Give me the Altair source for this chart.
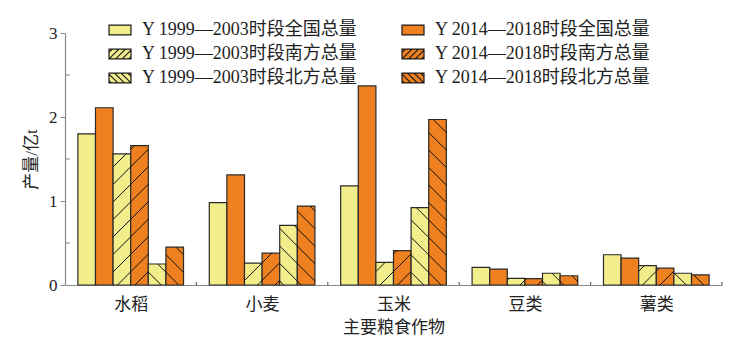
import math
import altair as alt
import pandas as pd

# ---------------- data ----------------
crops = ["水稻", "小麦", "玉米", "豆类", "薯类"]
series = [
    "Y 1999—2003时段全国总量",
    "Y 2014—2018时段全国总量",
    "Y 1999—2003时段南方总量",
    "Y 2014—2018时段南方总量",
    "Y 1999—2003时段北方总量",
    "Y 2014—2018时段北方总量",
]
nat_1999 = [1.80, 0.98, 1.18, 0.21, 0.36]
nat_2014 = [2.11, 1.31, 2.37, 0.19, 0.32]
south_1999 = [1.56, 0.26, 0.27, 0.08, 0.23]
south_2014 = [1.66, 0.38, 0.41, 0.075, 0.20]
north_1999 = [0.25, 0.71, 0.92, 0.14, 0.14]
north_2014 = [0.45, 0.94, 1.97, 0.11, 0.12]
values = [nat_1999, nat_2014, south_1999, south_2014, north_1999, north_2014]
hatch = ["", "", "/", "/", "\\", "\\"]
colors = ["#F3EE8C", "#EE801F", "#F3EE8C", "#EE801F", "#F3EE8C", "#EE801F"]
legend_order = [0, 2, 4, 1, 3, 5]   # legend is filled column by column
y_ticks = [0, 1, 2, 3]
y_minor = [0.5, 1.5, 2.5]

# ---------------- layout ----------------
W, H = 657, 252
YMAX = 3
NCAT = len(crops)
BW = 0.134            # bar width in category units
kx = W / NCAT
ky = H / YMAX
SP = 17.5             # hatch spacing in px

FONT = "Liberation Serif, Noto Sans CJK SC"
TXT = "#222222"

rows = []
segs = []
start = (1 - BW * len(series)) / 2
for si, s in enumerate(series):
    for ci, c in enumerate(crops):
        v = values[si][ci]
        x0 = ci + start + si * BW
        x1 = x0 + BW
        rows.append({"crop": c, "series": s, "x0": x0, "x1": x1, "v": v, "v0": 0.0})
        if hatch[si]:
            X0, X1, Hp = x0 * kx, x1 * kx, v * ky
            if hatch[si] == "/":
                m0 = math.floor((X0 - Hp) / SP) - 1
                m1 = math.ceil(X1 / SP) + 1
                for m in range(m0, m1 + 1):
                    cc = m * SP
                    xa, xb = max(X0, cc), min(X1, cc + Hp)
                    if xb - xa > 0.8:
                        segs.append({"x0": xa / kx, "v": (xa - cc) / ky,
                                     "x1": xb / kx, "v0": (xb - cc) / ky})
            else:
                m0 = math.floor(X0 / SP) - 1
                m1 = math.ceil((X1 + Hp) / SP) + 1
                for m in range(m0, m1 + 1):
                    cc = m * SP + SP / 2
                    xa, xb = max(X0, cc - Hp), min(X1, cc)
                    if xb - xa > 0.8:
                        segs.append({"x0": xa / kx, "v": (cc - xa) / ky,
                                     "x1": xb / kx, "v0": (cc - xb) / ky})

df = pd.DataFrame(rows)
seg_df = pd.DataFrame(segs)
minor_df = pd.DataFrame({"v": y_minor})
bound_df = pd.DataFrame({"x0": list(range(1, NCAT + 1))})
legend_df = pd.DataFrame({"series": series, "v": [-1.0] * len(series), "x0": [0.5] * len(series)})

# legend symbol paths
BOX = "M-1,-0.45H1V0.45H-1Z"
P_S = BOX + " M-1,-0.15L-0.7,-0.45 M-1,0.45L-0.1,-0.45 M-0.4,0.45L0.5,-0.45 M0.2,0.45L1,-0.35 M0.8,0.45L1,0.25"
P_N = BOX + " M1,-0.15L0.7,-0.45 M1,0.45L0.1,-0.45 M0.4,0.45L-0.5,-0.45 M-0.2,0.45L-1,-0.35 M-0.8,0.45L-1,0.25"
shapes = [BOX if h == "" else (P_S if h == "/" else P_N) for h in hatch]

leg_domain = [series[i] for i in legend_order]
leg_colors = [colors[i] for i in legend_order]
leg_shapes = [shapes[i] for i in legend_order]

label_expr = "[" + ",".join(f"'{c}'" for c in crops) + "][floor(datum.value)]"

xscale = alt.Scale(domain=[0, NCAT], nice=False, zero=False)
yscale = alt.Scale(domain=[0, YMAX], nice=False)
fill_scale = alt.Scale(domain=leg_domain, range=leg_colors)

xaxis = alt.Axis(values=[i + 0.5 for i in range(NCAT)], labelExpr=label_expr,
                 ticks=False, grid=False, title="主要粮食作物",
                 labelFontSize=17, labelPadding=11, titleFontSize=17,
                 titlePadding=7, titleFontWeight="normal")
yaxis = alt.Axis(values=y_ticks, grid=False, title="产量/亿t",
                 tickSize=5, labelFontSize=17, labelPadding=3,
                 titleFontSize=17, titlePadding=8, titleFontWeight="normal")
X = alt.X("x0:Q", scale=xscale, axis=xaxis, title="主要粮食作物")
Y = alt.Y("v:Q", scale=yscale, axis=yaxis, title="产量/亿t")

leg = alt.Legend(title=None, orient="none", legendX=43, legendY=-15,
                 columns=2, columnPadding=41, rowPadding=3,
                 symbolSize=484, symbolStrokeWidth=1.2, symbolStrokeColor="#1a1a1a",
                 labelFontSize=18, labelOffset=10, padding=0, labelLimit=400)

bars = alt.Chart(df).mark_bar(stroke="#2a2a2a", strokeWidth=1.2).encode(
    x=X, x2="x1:Q", y=Y, y2="v0:Q",
    fill=alt.Fill("series:N", scale=fill_scale, legend=leg, title=None),
)

hatches = alt.Chart(seg_df).mark_rule(color="#111111", strokeWidth=1).encode(
    x=X, x2="x1:Q", y=Y, y2="v0:Q",
)

legend_pts = alt.Chart(legend_df).mark_point(
    filled=True, clip=True, size=484, stroke="#1a1a1a", strokeWidth=1.2, opacity=1
).encode(
    x=X, y=Y,
    fill=alt.Fill("series:N", scale=fill_scale, legend=leg, title=None),
    shape=alt.Shape("series:N", scale=alt.Scale(domain=leg_domain, range=leg_shapes),
                    legend=leg, title=None),
)

minor = alt.Chart(minor_df).mark_rule(color="#888888", strokeWidth=1).encode(
    y=Y, x=alt.value(0), x2=alt.value(5),
)

bounds = alt.Chart(bound_df).mark_rule(color="#666666", strokeWidth=1.2).encode(
    x=X, y=alt.value(H), y2=alt.value(H - 3),
)

chart = alt.layer(bars, hatches, minor, bounds, legend_pts).properties(
    width=W, height=H,
    background="white",
    autosize=alt.AutoSizeParams(type="none"),
    padding={"left": 65, "top": 33, "right": 15, "bottom": 66},
).configure_view(stroke=None).configure_axis(
    domainColor="#888888", tickColor="#888888", domainWidth=1.2,
    labelColor=TXT, titleColor=TXT, labelFont=FONT, titleFont=FONT,
).configure_legend(labelFont=FONT, labelColor=TXT)

chart.save("out.html", embed_options={"renderer": "svg", "actions": False})
